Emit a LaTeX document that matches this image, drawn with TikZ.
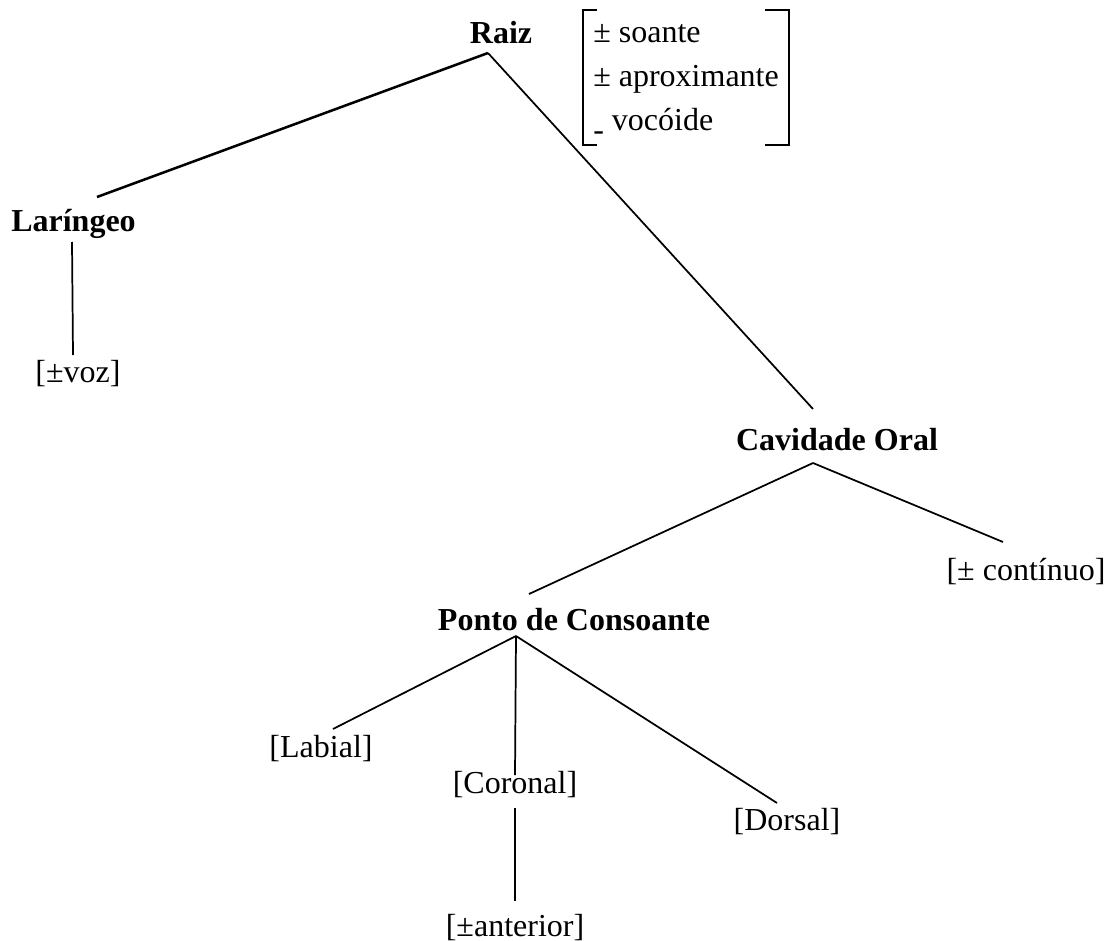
\documentclass[tikz,border=0pt]{standalone}
\usepackage{fontspec}
\setmainfont{Liberation Serif}
\begin{document}
\begin{tikzpicture}[x=0.75pt,y=-0.75pt,
  lbl/.style={font=\fontsize{24}{28}\selectfont, inner sep=0pt, anchor=base},
  head/.style={lbl, font=\fontsize{24}{28}\selectfont\bfseries},
  feat/.style={lbl, anchor=base west},
  edge/.style={line width=1.3pt},
  thick edge/.style={line width=1.9pt}]
\useasboundingbox (0,0) rectangle (1116,941);

% nodes
\node[head] (raiz)  at (501,44)  {Raiz};
\node[head] (lar)   at (73.5,232) {Laríngeo};
\node[lbl]  (voz)   at (78,382)  {[±voz]};
\node[head] (cav)   at (837,450) {Cavidade Oral};
\node[lbl]  (cont)  at (1026,580) {[± contínuo]};
\node[head] (ponto) at (574,630) {Ponto de Consoante};
\node[lbl]  (lab)   at (321,757) {[Labial]};
\node[lbl]  (cor)   at (515,793) {[Coronal]};
\node[lbl]  (dor)   at (787,830) {[Dorsal]};
\node[lbl]  (ant)   at (515,936) {[±anterior]};

% feature matrix
\node[feat] (f1) at (593,43)  {± soante};
\node[feat] (f2) at (593,87)  {± aproximante};
\node[feat] (f3) at (593,131) {\raisebox{-7pt}{-} vocóide};
\draw[edge] (597,10) -- (583,10) -- (583,145) -- (597,145);
\draw[edge] (765,10) -- (789,10) -- (789,145) -- (765,145);

% connector end points
\coordinate (raiz-s)  at (488,53);
\coordinate (lar-n)   at (97,197);
\coordinate (lar-s)   at (72,242);
\coordinate (voz-n)   at (73,355);
\coordinate (cav-n)   at (813,409);
\coordinate (cav-s)   at (813,463);
\coordinate (ponto-n) at (529,594);
\coordinate (cont-n)  at (1003,542);
\coordinate (ponto-s) at (516,636);
\coordinate (lab-n)   at (333,729);
\coordinate (cor-n)   at (515,775);
\coordinate (dor-n)   at (777,803);
\coordinate (cor-s)   at (515,808);
\coordinate (ant-n)   at (515,901);

% connectors
\draw[thick edge] (raiz-s) -- (lar-n);
\draw[edge] (raiz-s) -- (cav-n);
\draw[edge] (lar-s) -- (voz-n);
\draw[edge] (cav-s) -- (ponto-n);
\draw[edge] (cav-s) -- (cont-n);
\draw[edge] (ponto-s) -- (lab-n);
\draw[edge] (ponto-s) -- (cor-n);
\draw[edge] (ponto-s) -- (dor-n);
\draw[edge] (cor-s) -- (ant-n);
\end{tikzpicture}
\end{document}
